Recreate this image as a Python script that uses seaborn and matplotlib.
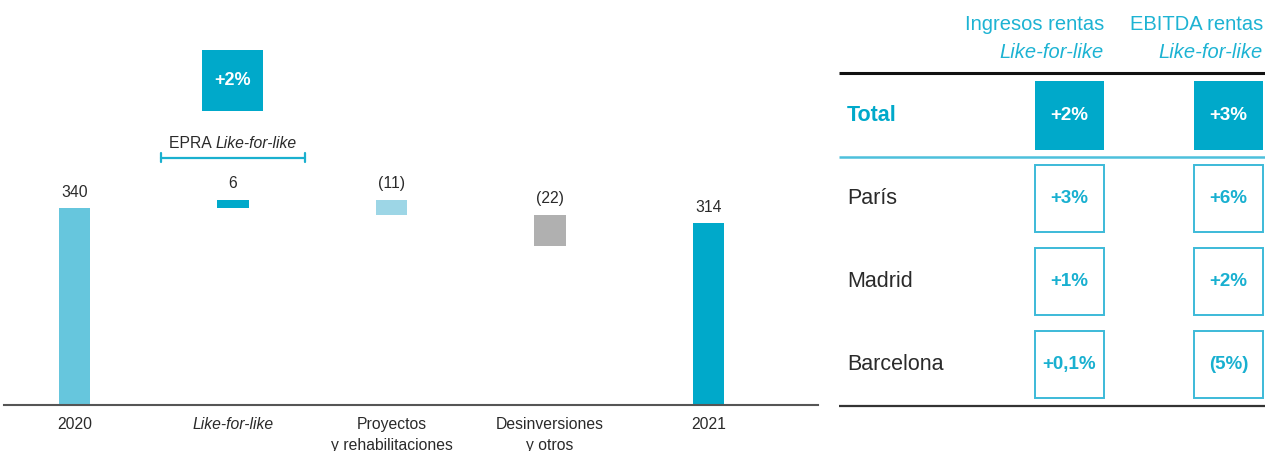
import matplotlib
matplotlib.use("Agg")
import matplotlib.pyplot as plt
import seaborn as sns
import numpy as np
import pandas as pd
from matplotlib.patches import Rectangle
from matplotlib.offsetbox import TextArea, HPacker, AnnotationBbox

# ---- data ----
categories = ["2020", "Like-for-like", "Proyectos\ny rehabilitaciones", "Desinversiones\ny otros", "2021"]
bar_values = [340, 6, -11, -22, 314]
bar_kinds = ["total", "delta", "delta", "delta", "total"]
value_labels = ["340", "6", "(11)", "(22)", "314"]
lfl_growth_label = "+2%"

table_rows = ["Total", "París", "Madrid", "Barcelona"]
ingresos_lfl = ["+2%", "+3%", "+1%", "+0,1%"]
ebitda_lfl = ["+3%", "+6%", "+2%", "(5%)"]
table_headers = [("Ingresos rentas", "Like-for-like"), ("EBITDA rentas", "Like-for-like")]

# ---- style ----
sns.set_theme(style="white")
plt.rcParams["font.family"] = ["Liberation Sans", "DejaVu Sans"]

C_DARK = "#00a9ca"
C_2020 = "#66c6dd"
C_PROJ = "#9dd6e6"
C_DIS = "#b0b0b0"
C_TEXT = "#2a2a2a"
C_HEAD = "#1db3d3"
bar_colors = [C_2020, C_DARK, C_PROJ, C_DIS, C_DARK]

W, H = 1265, 451
fig = plt.figure(figsize=(W / 100, H / 100), dpi=100)

# ---- waterfall (left) ----
ax = fig.add_axes([4 / W, 46 / H, 814 / W, 405 / H])
delta_zoom = 2.4  # intermediate steps drawn enlarged so they stay visible
bottoms, heights, tops = [], [], []
level = 0.0
for v, k in zip(bar_values, bar_kinds):
    if k == "total":
        bottoms.append(0.0)
        heights.append(float(v))
        tops.append(float(v))
        level = float(v)
    else:
        h = v * delta_zoom
        b = level if h > 0 else level + h
        bottoms.append(b)
        heights.append(abs(h))
        tops.append(max(level, level + h))
        level = level + h

df = pd.DataFrame({"cat": categories, "h": heights})
sns.barplot(data=df, x="cat", y="h", bottom=bottoms, width=0.196,
            color=C_DARK, ax=ax, linewidth=0, saturation=1)
for p, c in zip(ax.patches, bar_colors):
    p.set_facecolor(c)

for i, (t, lab) in enumerate(zip(tops, value_labels)):
    ax.annotate(lab, (i, t), xytext=(0, 11.5), textcoords="offset points",
                ha="center", va="center", fontsize=11.3, color=C_TEXT)

ax.set_xlim(-0.4448, 4.691)
ax.set_ylim(0, 698.9)
ax.set_xlabel("")
ax.set_ylabel("")
ax.set_yticks([])
for s in ["top", "right", "left"]:
    ax.spines[s].set_visible(False)
ax.spines["bottom"].set_color("#555555")
ax.spines["bottom"].set_linewidth(1.5)
ax.tick_params(axis="x", length=0, pad=8.5, labelsize=11.3, labelcolor=C_TEXT)
for lbl in ax.get_xticklabels():
    lbl.set_linespacing(1.5)
    if lbl.get_text() == "Like-for-like":
        lbl.set_style("italic")

# EPRA like-for-like bracket and growth box above the like-for-like step
px = 158.5  # pixels per category
py = 0.5795  # pixels per unit
half_br = 72 / px
y_br = (405 - 157.5) / py
ax.plot([1 - half_br, 1 + half_br], [y_br, y_br], color="#1ab0cf", lw=1.6, clip_on=False)
for xe in (1 - half_br, 1 + half_br):
    ax.plot([xe, xe], [y_br - 4.5 / py, y_br + 4.5 / py], color="#1ab0cf", lw=1.6, clip_on=False)

ta1 = TextArea("EPRA ", textprops=dict(fontsize=11.3, color=C_TEXT))
ta2 = TextArea("Like-for-like", textprops=dict(fontsize=11.3, color=C_TEXT, style="italic"))
pack = HPacker(children=[ta1, ta2], align="baseline", pad=0, sep=0)
ab = AnnotationBbox(pack, (1, (405 - 143) / py), frameon=False, box_alignment=(0.5, 0.5),
                    annotation_clip=False)
ax.add_artist(ab)

bw = 61 / px
bh_top = (405 - 50) / py
bh_bot = (405 - 111) / py
ax.add_patch(Rectangle((1 - bw / 2, bh_bot), bw, bh_top - bh_bot, facecolor=C_DARK,
                       edgecolor="none", clip_on=False))
ax.text(1, (bh_top + bh_bot) / 2, lfl_growth_label, ha="center", va="center",
        fontsize=13, fontweight="bold", color="white")

# ---- like-for-like table (right) ----
tx0, tx1, ty0, ty1 = 839, 1265, 73, 406
axt = fig.add_axes([tx0 / W, (H - ty1) / H, (tx1 - tx0) / W, (ty1 - ty0) / H])
col_px, row_px = 159.0, 83.0
axt.set_xlim((tx0 - 1069.5) / col_px, (tx1 - 1069.5) / col_px)
axt.set_ylim((ty1 - 115.5) / row_px, (ty0 - 115.5) / row_px)
axt.axis("off")

x_lo, x_hi = axt.get_xlim()
y_bot, y_top = axt.get_ylim()
axt.plot([x_lo, x_hi], [y_top, y_top], color="#111111", lw=2.2, clip_on=False, solid_capstyle="butt")
axt.plot([x_lo, x_hi], [0.5, 0.5], color="#4dc0dc", lw=1.8, clip_on=False, solid_capstyle="butt")
axt.plot([x_lo, x_hi], [y_bot, y_bot], color="#333333", lw=1.6, clip_on=False, solid_capstyle="butt")

box_w = 69 / col_px
label_x = (847 - 1069.5) / col_px
for r, name in enumerate(table_rows):
    total = r == 0
    axt.text(label_x, r, name, ha="left", va="center", fontsize=15.5,
             fontweight="bold" if total else "normal", color=C_DARK if total else C_TEXT)
    bh = (69 if total else 67) / row_px
    for c, vals in enumerate([ingresos_lfl, ebitda_lfl]):
        if total:
            axt.add_patch(Rectangle((c - box_w / 2, r - bh / 2), box_w, bh,
                                    facecolor=C_DARK, edgecolor="none", clip_on=False))
            tc = "white"
        else:
            axt.add_patch(Rectangle((c - box_w / 2, r - bh / 2), box_w, bh,
                                    facecolor="white", edgecolor="#3cbad8", lw=1.4, clip_on=False))
            tc = "#19b0d0"
        axt.text(c, r, vals[r], ha="center", va="center", fontsize=13.5,
                 fontweight="bold", color=tc)

for c, (h1, h2) in enumerate(table_headers):
    xr = c + box_w / 2
    axt.text(xr, (24 - 115.5) / row_px, h1, ha="right", va="center", fontsize=14.5,
             color=C_HEAD, clip_on=False)
    axt.text(xr, (52 - 115.5) / row_px, h2, ha="right", va="center", fontsize=14.5,
             color=C_HEAD, style="italic", clip_on=False)

fig.savefig("out.png", dpi=100)
